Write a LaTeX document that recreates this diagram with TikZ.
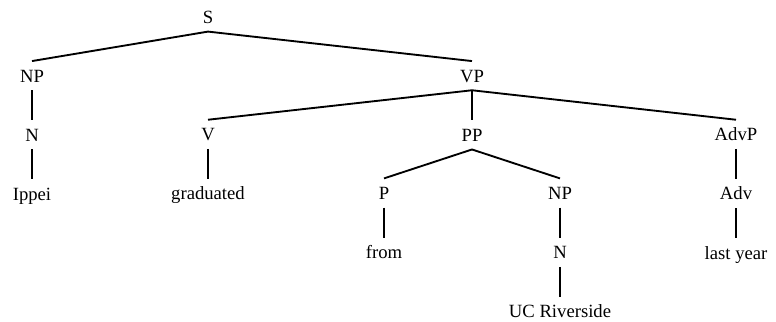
\documentclass[tikz,border=0pt]{standalone}
\usepackage{fontspec}
\setmainfont{Liberation Serif}
\usetikzlibrary{positioning}

\begin{document}
\begin{tikzpicture}[
			x=66pt, y=44pt
			,every node/.append style={font=\fontsize{14}{16}\selectfont, text height=9.5pt, text depth=0pt, inner xsep=2pt, inner ysep=6pt}
			,node distance=22.5pt
			,br/.style={line width=1.4pt}
		]
			\useasboundingbox (-0.3636,0.2898) rectangle (8.4545,-5.1818);
			% phrases
			\node (S) at (2,0) {S};
			\node (NPa) at (0,-1) {NP};
			\node (VP) at (5,-1) {VP};
			\node (V) at (2,-2) {V};
			\node [below=of VP] (PP) {PP};
			\node (AdvP) at (8,-2) {AdvP};
			\node (P) at (4,-3) {P};
			\node (NPb) at (6,-3) {NP};
			% chains
			\node [below=of NPa] (Na) {N};
			\node [below=of Na] (ippei) {Ippei};
			\node [below=of V] (grad) {graduated};
			\node [below=of AdvP] (Adv) {Adv};
			\node [below=of Adv] (year) {last year};
			\node [below=of P] (from) {from};
			\node [below=of NPb] (Nb) {N};
			\node [below=of Nb] (ucr) {UC Riverside};

			\foreach \a/\b in {S/NPa, S/VP, NPa/Na, Na/ippei, VP/V, VP/PP, VP/AdvP,
				V/grad, PP/P, PP/NPb, AdvP/Adv, Adv/year, P/from, NPb/Nb, Nb/ucr}
				\draw [br] (\a.south) -- (\b.north);
		\end{tikzpicture}
\end{document}
